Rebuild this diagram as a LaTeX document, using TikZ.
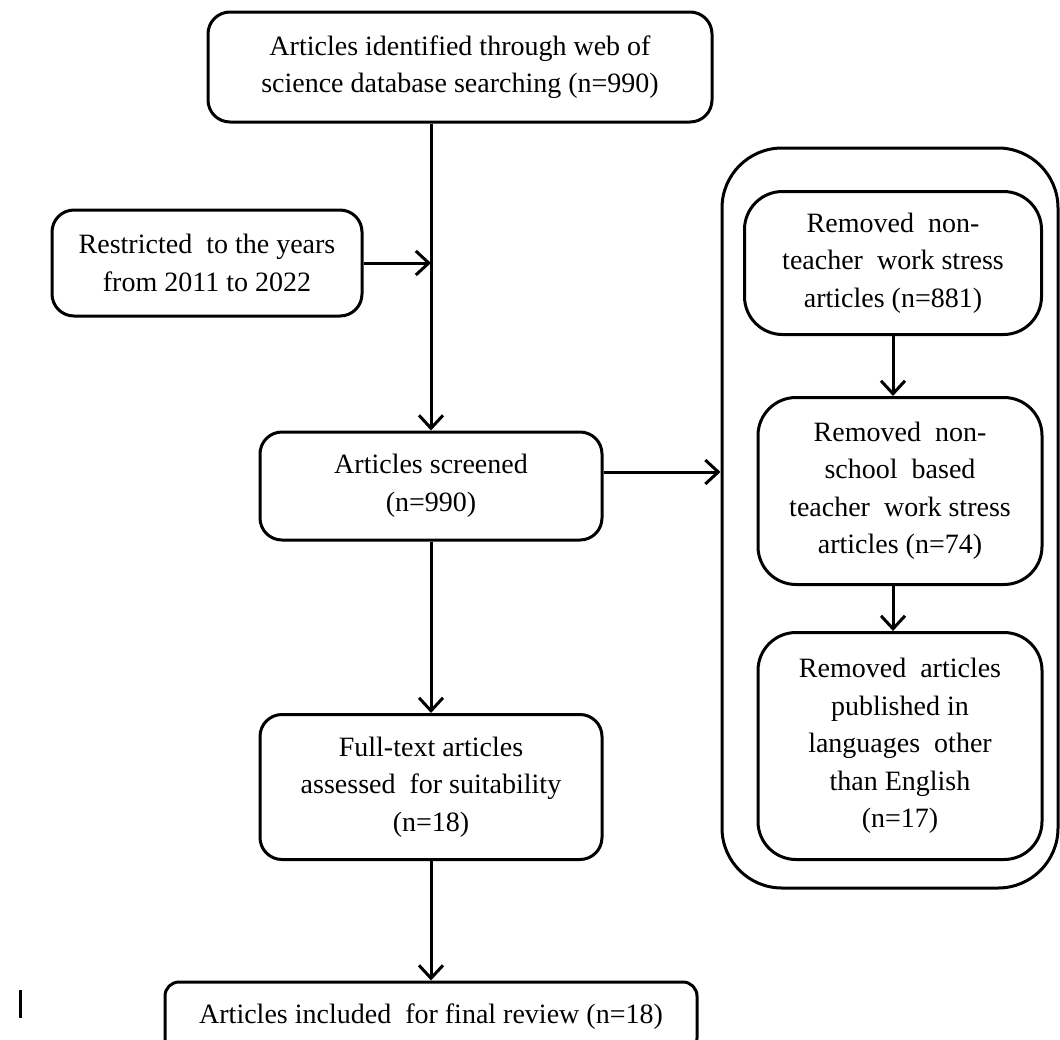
\documentclass[tikz,border=0pt]{standalone}
\usepackage{fontspec}
\setmainfont{Liberation Serif}
\usetikzlibrary{arrows.meta}
\begin{document}
\begin{tikzpicture}[x=1pt,y=-1pt,
  every node/.style={font=\fontsize{28}{37.5}\selectfont, align=center, inner sep=0pt},
  box/.style={draw, line width=3pt, rounded corners=22pt},
  ibox/.style={draw, line width=3pt, rounded corners=38pt},
  arr/.style={line width=3pt, -{Straight Barb[length=13pt,width=24pt,line width=3pt]}},
  ln/.style={line width=3pt}]
\useasboundingbox (0,0) rectangle (1060,1039);
\fill[white] (0,0) rectangle (1060,1039);
% left column
\node[box, minimum width=504pt, minimum height=110pt] (top) at (460,67)
  {Articles identified through web of\\science database searching (n=990)};
\node[box, minimum width=310pt, minimum height=106pt] (lft) at (207,263)
  {Restricted\ \ to the years\\from 2011 to 2022};
\node[box, minimum width=342pt, minimum height=108pt] (scr) at (431,486)
  {Articles screened\\(n=990)};
\node[box, minimum width=342pt, minimum height=145pt] (full) at (431,787)
  {Full-text articles\\assessed\ \ for suitability\\(n=18)};
\node[box, rounded corners=14pt, minimum width=532pt, minimum height=70pt] (bot) at (431,1017)
  {Articles included\ \ for final review (n=18)};
% right group
\node[draw, line width=3pt, rounded corners=60pt, minimum width=336pt, minimum height=740pt] (grp) at (890,518) {};
\node[ibox, minimum width=297pt, minimum height=143pt] (in1) at (893,263)
  {Removed\ \ non-\\teacher\ \ work stress\\articles (n=881)};
\node[ibox, minimum width=284pt, minimum height=187pt] (in2) at (900,491)
  {Removed\ \ non-\\school\ \ based\\teacher\ \ work stress\\articles (n=74)};
\node[ibox, minimum width=284pt, minimum height=227pt] (in3) at (900,746)
  {Removed\ \ articles\\published in\\languages\ \ other\\than English\\(n=17)};
% connectors
\draw[arr] (top.south -| scr.north) -- (scr.north);
\draw[arr] (lft.east) -- (lft.east -| scr.north);
\draw[arr] ([yshift=14pt]scr.east) -- ([yshift=14pt]scr.east -| grp.west);
\draw[arr] (scr.south) -- (full.north);
\draw[arr] (full.south) -- (full.south |- bot.north);
\draw[arr] (in1.south) -- (in1.south |- in2.north);
\draw[arr] (in2.south -| in1.south) -- (in1.south |- in3.north);
% stray mark
\draw[ln] (20,990) -- (20,1018);
\end{tikzpicture}
\end{document}
